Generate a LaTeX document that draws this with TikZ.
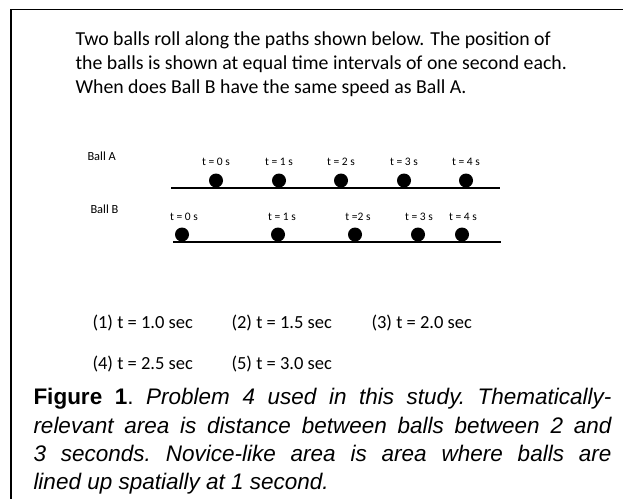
\documentclass[tikz,border=0pt]{standalone}
\usepackage{fontspec}
\setmainfont{Carlito}
\newfontfamily\capfont{Liberation Sans}

\begin{document}
\begin{tikzpicture}[x=1pt, y=-1pt, line width=1pt,
                    txt/.style={anchor=base west, inner sep=0pt},
                    qtxt/.style={txt, font=\fontsize{19.8}{24}\selectfont},
                    ctxt/.style={txt, font=\fontsize{18.5}{22}\selectfont},
                    tlab/.style={anchor=base, inner sep=0pt, font=\fontsize{11.5}{13}\selectfont},
                    track/.style={line width=2.6pt},
                    ballfill/.style={fill=black}]
  \useasboundingbox (0,0) rectangle (623,499);
  % open frame: top and left side only
  \draw[line width=1.2pt] (623,9.5) -- (11,9.5) -- (11,499);

  % question
  \node[qtxt] (q1) at (75,45) {Two balls roll along the paths shown below. The position of};
  \node[qtxt] (q2) at (75,69) {the balls is shown at equal time intervals of one second each.};
  \node[qtxt] (q3) at (75,93) {When does Ball B have the same speed as Ball A.};

  % ball A
  \node[txt, font=\fontsize{12.4}{14}\selectfont] (ballA) at (87,160) {Ball A};
  \draw[track] (171,188) -- (500,188);
  \foreach \x/\t in {216/0,279/1,341/2,404/3,466/4}{
    \fill[ballfill] (\x,180.5) circle (7pt);
    \node[tlab] at (\x,165) {t = \t\ s};
  }

  % ball B
  \node[txt, font=\fontsize{12.4}{14}\selectfont] (ballB) at (90,213) {Ball B};
  \draw[track] (173,242) -- (501,242);
  \foreach \x/\xl/\t in {182/184/{t = 0 s},278/282/{t = 1 s},355/358/{t =2 s},418/419/{t = 3 s},462/463/{t = 4 s}}{
    \fill[ballfill] (\x,234.5) circle (7pt);
    \node[tlab] at (\xl,220) {\t};
  }

  % choices
  \node[ctxt] (c1) at (92,328) {(1) t = 1.0 sec};
  \node[ctxt] (c2) at (231,328) {(2) t = 1.5 sec};
  \node[ctxt] (c3) at (371,328) {(3) t = 2.0 sec};
  \node[ctxt] (c4) at (92,369) {(4) t = 2.5 sec};
  \node[ctxt] (c5) at (231,369) {(5) t = 3.0 sec};

  % caption
  \node[anchor=north west, inner sep=0pt, text width=578pt, align=justify,
        font=\capfont\fontsize{22.5}{28.3}\selectfont\frenchspacing] (cap) at (33,388)
    {\textbf{Figure 1}. \textit{Problem 4 used in this study. Thematically-\linebreak
     relevant area is distance between balls between 2 and\linebreak
     3 seconds. Novice-like area is area where balls are\linebreak
     lined up spatially at 1 second.}};
\end{tikzpicture}
\end{document}
